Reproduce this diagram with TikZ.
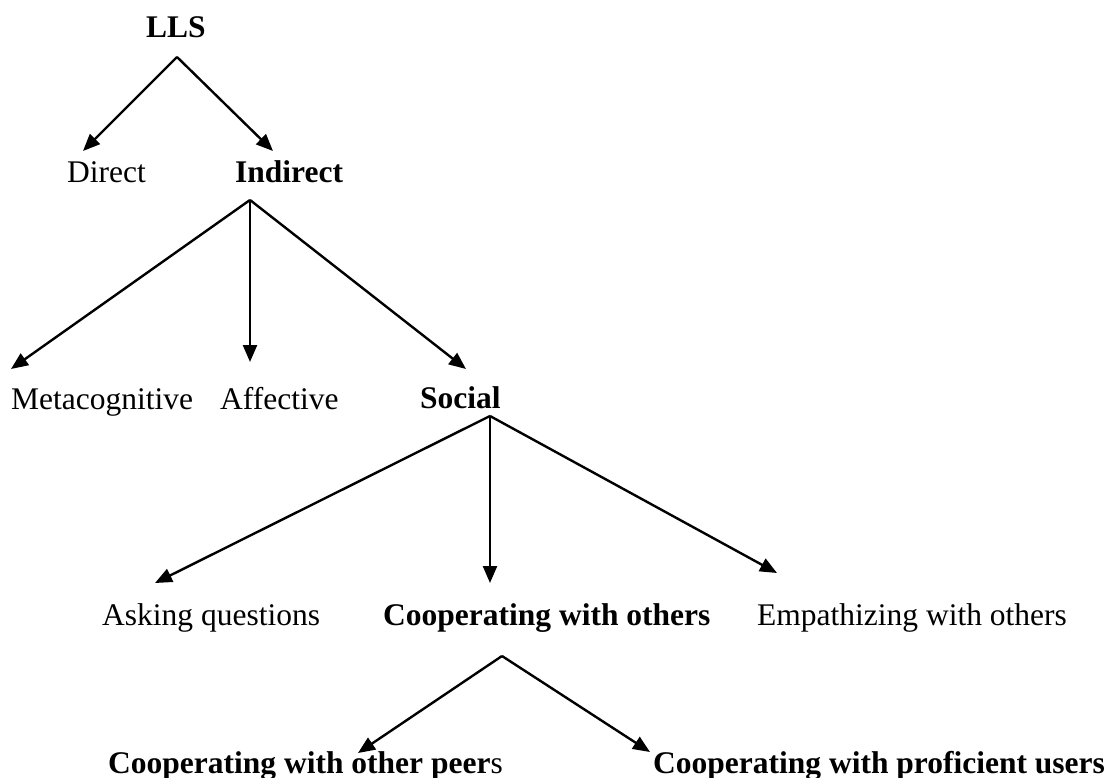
\documentclass[tikz,border=0pt]{standalone}
\usepackage{fontspec}
\setmainfont{Liberation Serif}
\usetikzlibrary{arrows.meta}
\begin{document}
\begin{tikzpicture}[x=1pt,y=-1pt,
  lbl/.style={anchor=base west,inner sep=0pt,font=\fontsize{31.5}{38}\selectfont},
  bl/.style={lbl,font=\fontsize{31.5}{38}\selectfont\bfseries},
  link/.style={line width=2.4pt,-{Triangle[length=17pt,width=14pt]}}]
\useasboundingbox (0,0) rectangle (1114,778);

% labels
\node[bl]  (lls)  at (146,38)  {LLS};
\node[lbl] (dir)  at (67,183)  {Direct};
\node[bl]  (ind)  at (235,183) {Indirect};
\node[lbl] (meta) at (11,409)  {Metacognitive};
\node[lbl] (aff)  at (220,409) {Affective};
\node[bl]  (soc)  at (420,408) {Social};
\node[lbl] (ask)  at (102,625) {Asking questions};
\node[bl]  (coop) at (383,625) {Cooperating with others};
\node[lbl] (emp)  at (757,625) {Empathizing with others};
\node[lbl] (peer) at (108,773) {\textbf{Cooperating with other peer}s};
\node[bl]  (prof) at (653,773) {Cooperating with proficient users};

% branch points below each parent
\coordinate (lls-b)  at (177,57);
\coordinate (ind-b)  at (250,200);
\coordinate (soc-b)  at (490,416);
\coordinate (coop-b) at (502,656);

% arrow tips above each child
\coordinate (dir-t)  at (83,151);
\coordinate (ind-t)  at (273,151);
\coordinate (meta-t) at (11,369);
\coordinate (aff-t)  at (250,362);
\coordinate (soc-t)  at (466,369);
\coordinate (ask-t)  at (155,583);
\coordinate (coop-t) at (490,583);
\coordinate (emp-t)  at (777,573);
\coordinate (peer-t) at (358,753);
\coordinate (prof-t) at (650,752);

% connectors
\draw[link] (lls-b) -- (dir-t);
\draw[link] (lls-b) -- (ind-t);
\draw[link] (ind-b) -- (meta-t);
\draw[link] (ind-b) -- (aff-t);
\draw[link] (ind-b) -- (soc-t);
\draw[link] (soc-b) -- (ask-t);
\draw[link] (soc-b) -- (coop-t);
\draw[link] (soc-b) -- (emp-t);
\draw[link] (coop-b) -- (peer-t);
\draw[link] (coop-b) -- (prof-t);
\end{tikzpicture}
\end{document}
